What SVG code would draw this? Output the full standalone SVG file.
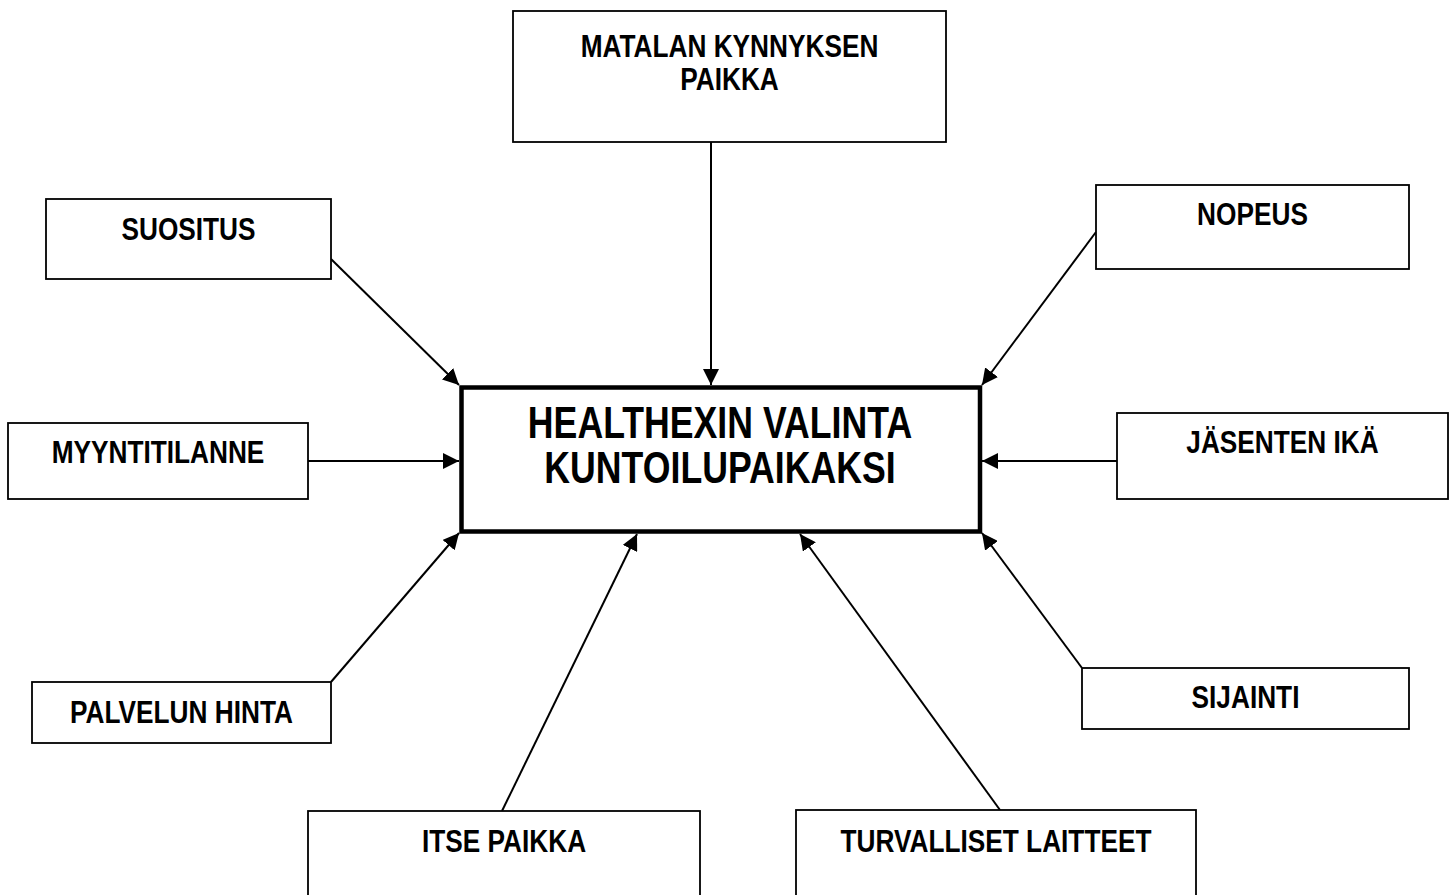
<svg xmlns="http://www.w3.org/2000/svg" width="1454" height="895" viewBox="0 0 1454 895">
<defs>
<style>
.box{fill:#fff;stroke:#000;stroke-width:1.8}
.main{fill:#fff;stroke:#000;stroke-width:4.5}
.t{font-family:"Liberation Sans",Arial,sans-serif;font-weight:bold;font-size:32px;fill:#000;text-anchor:middle}
.tm{font-size:43.5px}
.c{stroke:#000;stroke-width:2;fill:none;marker-end:url(#ah)}
</style>
<marker id="ah" markerUnits="userSpaceOnUse" markerWidth="17" markerHeight="16" refX="16" refY="8" orient="auto">
<path d="M0,0 L16,8 L0,16 Z" fill="#000"/>
</marker>
</defs>
<rect width="1454" height="895" fill="#fff"/>
<g id="connectors">
<line class="c" x1="711" y1="142" x2="711" y2="385"/>
<line class="c" x1="331" y1="259" x2="459" y2="385"/>
<line class="c" x1="1096" y1="232" x2="982" y2="385"/>
<line class="c" x1="308" y1="461" x2="459" y2="461"/>
<line class="c" x1="1117" y1="461" x2="982" y2="461"/>
<line class="c" x1="331" y1="682" x2="459" y2="533"/>
<line class="c" x1="1082" y1="668" x2="982" y2="533"/>
<line class="c" x1="502" y1="811" x2="637" y2="534"/>
<line class="c" x1="1000" y1="810" x2="800" y2="534"/>
</g>
<g id="center">
<rect class="main" x="461.5" y="387.5" width="518.5" height="144"/>
<text class="t tm" transform="translate(720,438) scale(0.82,1)">HEALTHEXIN VALINTA</text>
<text class="t tm" transform="translate(720,483) scale(0.82,1)">KUNTOILUPAIKAKSI</text>
</g>
<g id="matalan">
<rect class="box" x="513" y="11" width="433" height="131"/>
<text class="t" transform="translate(729.5,57) scale(0.82,1)">MATALAN KYNNYKSEN</text>
<text class="t" transform="translate(729.5,90) scale(0.82,1)">PAIKKA</text>
</g>
<g id="suositus">
<rect class="box" x="46" y="199" width="285" height="80"/>
<text class="t" transform="translate(188.5,240) scale(0.82,1)">SUOSITUS</text>
</g>
<g id="nopeus">
<rect class="box" x="1096" y="185" width="313" height="84"/>
<text class="t" transform="translate(1252.5,225) scale(0.82,1)">NOPEUS</text>
</g>
<g id="myyntitilanne">
<rect class="box" x="8" y="423" width="300" height="76"/>
<text class="t" transform="translate(158,463) scale(0.82,1)">MYYNTITILANNE</text>
</g>
<g id="jasenten">
<rect class="box" x="1117" y="413" width="331" height="86"/>
<text class="t" transform="translate(1282.5,453) scale(0.82,1)">JÄSENTEN IKÄ</text>
</g>
<g id="palvelun">
<rect class="box" x="32" y="682" width="299" height="61"/>
<text class="t" transform="translate(181.5,723) scale(0.82,1)">PALVELUN HINTA</text>
</g>
<g id="sijainti">
<rect class="box" x="1082" y="668" width="327" height="61"/>
<text class="t" transform="translate(1245.5,708) scale(0.82,1)">SIJAINTI</text>
</g>
<g id="itse">
<rect class="box" x="308" y="811" width="392" height="110"/>
<text class="t" transform="translate(504,852) scale(0.82,1)">ITSE PAIKKA</text>
</g>
<g id="turvalliset">
<rect class="box" x="796" y="810" width="400" height="110"/>
<text class="t" transform="translate(996,852) scale(0.82,1)">TURVALLISET LAITTEET</text>
</g>
</svg>
